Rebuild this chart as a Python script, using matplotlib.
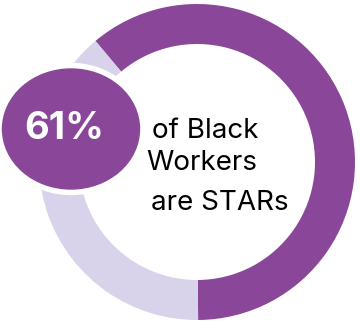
import matplotlib
matplotlib.use("Agg")
import matplotlib.pyplot as plt
from matplotlib.patches import Ellipse

# share of Black workers who are STARs
labels = ["STARs", "Other"]
shares = [61, 39]
colors = ["#8A4799", "#D9D2EB"]
headline = "61%"
caption = ["of Black", "Workers", "are STARs"]

W, H = 360, 324
fig = plt.figure(figsize=(W / 100, H / 100), dpi=100)
ax = fig.add_axes([0, 0, 1, 1])

# ring
ax.pie(shares, colors=colors, radius=158, center=(197, 162),
       startangle=130, counterclock=False,
       wedgeprops=dict(width=40, linewidth=0))
ax.set_xlim(0, W)
ax.set_ylim(0, H)
ax.set_aspect("equal")
ax.axis("off")

# badge with white halo
ax.add_patch(Ellipse((71, 195), 148, 131, color="white", zorder=3))
ax.add_patch(Ellipse((71, 195), 137, 120, color=colors[0], zorder=4))
ax.text(64, 195, headline, color="white", fontsize=27.5, fontweight="bold",
        family="Inter", ha="center", va="center", zorder=5)

# caption lines
ax.text(152, 186, caption[0], fontsize=20, family="Inter", va="baseline", zorder=5)
ax.text(146, 154, caption[1], fontsize=20, family="Inter", va="baseline", zorder=5)
ax.text(151, 114, caption[2], fontsize=20, family="Inter", va="baseline", zorder=5)

fig.savefig("out.png", dpi=100)
